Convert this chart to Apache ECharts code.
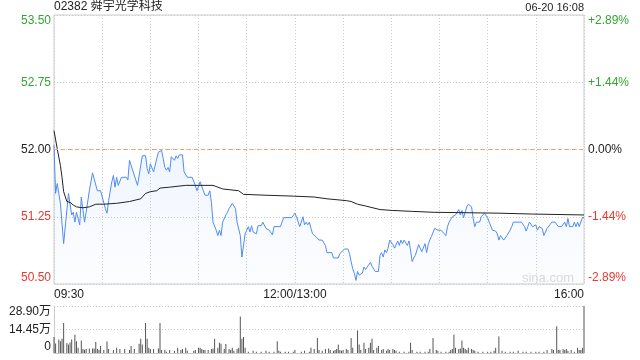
<!DOCTYPE html>
<html>
<head>
<meta charset="utf-8">
<script src="https://cdn.jsdelivr.net/npm/echarts@6/dist/echarts.min.js"></script>
<style>
  html, body { margin: 0; padding: 0; background: #fff; }
  #main { width: 640px; height: 360px; }
</style>
</head>
<body>
<div id="main"></div>
<script>
// 分时图：02382 舜宇光学科技（价格 / 均价 / 成交量）
const PREV_CLOSE = 52.00;
const TITLE = '02382 舜宇光学科技';
const STAMP = '06-20 16:08';
const TIME_TICKS = [0, 150, 330];
const TIME_LABELS = ['09:30', '12:00/13:00', '16:00'];
const PCT_LABELS = ['-2.89%', '-1.44%', '0.00%', '+1.44%', '+2.89%'];
const VOL_MAX = 28.9; // 万

// [分钟序号, 价格]
const price = [
  [0, 52.05], [1, 51.51], [2, 51.62], [4, 51.40], [5, 51.42], [6, 50.95], [9, 51.51], [11, 51.27],
  [12, 51.30], [13, 51.19], [14, 51.30], [16, 51.16], [17, 51.47], [19, 51.19], [20, 51.30], [22, 51.54],
  [23, 51.54], [24, 51.74], [25, 51.74], [27, 51.54], [29, 51.54], [30, 51.53], [32, 51.34], [33, 51.29],
  [34, 51.43], [36, 51.64], [37, 51.71], [38, 51.58], [39, 51.69], [40, 51.60], [41, 51.58], [42, 51.69],
  [45, 51.69], [46, 51.66], [47, 51.88], [48, 51.86], [52, 51.60], [53, 51.58], [55, 51.93], [57, 51.93],
  [58, 51.79], [59, 51.73], [60, 51.84], [61, 51.82], [62, 51.75], [64, 51.90], [65, 51.97], [66, 51.97],
  [67, 51.99], [68, 51.90], [69, 51.80], [70, 51.77], [71, 51.80], [72, 51.75], [73, 51.92], [74, 51.93],
  [75, 51.88], [76, 51.93], [77, 51.90], [78, 51.94], [80, 51.94], [81, 51.75], [82, 51.74], [83, 51.69],
  [86, 51.69], [88, 51.60], [89, 51.54], [90, 51.54], [91, 51.64], [92, 51.64], [93, 51.54], [94, 51.49],
  [96, 51.49], [97, 51.54], [98, 51.41], [99, 51.19], [101, 51.10], [102, 51.04], [103, 51.10], [104, 51.04],
  [105, 51.19], [107, 51.27], [108, 51.30], [109, 51.34], [110, 51.36], [111, 51.40], [112, 51.40], [113, 51.34],
  [114, 51.19], [115, 51.17], [116, 51.04], [117, 50.80], [119, 51.06], [120, 51.10], [121, 51.14], [122, 51.08],
  [123, 51.15], [124, 51.08], [125, 51.10], [126, 51.06], [127, 51.15], [129, 51.15], [130, 51.19], [131, 51.19],
  [132, 51.12], [134, 51.10], [135, 51.08], [136, 51.05], [137, 51.14], [141, 51.14], [143, 51.24], [148, 51.24],
  [150, 51.29], [151, 51.25], [152, 51.23], [153, 51.14], [154, 51.19], [155, 51.25], [156, 51.16], [157, 51.19],
  [158, 51.16], [159, 51.19], [160, 51.12], [161, 51.06], [162, 51.04], [163, 51.03], [164, 51.05], [165, 50.99],
  [166, 50.97], [167, 50.99], [169, 50.93], [170, 50.85], [173, 50.85], [174, 50.79], [177, 50.79], [178, 50.84],
  [179, 50.85], [181, 50.89], [183, 50.89], [184, 50.84], [185, 50.75], [186, 50.67], [187, 50.62], [188, 50.54],
  [189, 50.64], [190, 50.60], [191, 50.58], [192, 50.62], [193, 50.69], [194, 50.66], [195, 50.69], [196, 50.69],
  [197, 50.74], [198, 50.70], [199, 50.69], [200, 50.64], [202, 50.64], [203, 50.82], [204, 50.85], [205, 50.80],
  [206, 50.88], [207, 50.85], [208, 50.90], [209, 50.99], [210, 51.01], [211, 50.94], [212, 50.90], [214, 50.98],
  [215, 50.93], [216, 50.99], [217, 50.95], [218, 50.99], [220, 50.93], [221, 50.98], [222, 50.88], [223, 50.75],
  [224, 50.79], [225, 50.82], [226, 50.88], [227, 50.94], [228, 50.95], [229, 50.86], [231, 50.95], [232, 50.85],
  [233, 50.94], [234, 50.99], [235, 51.03], [237, 51.12], [238, 51.14], [239, 51.10], [241, 51.10], [242, 51.09],
  [244, 51.04], [245, 51.14], [246, 51.19], [247, 51.20], [248, 51.25], [249, 51.25], [250, 51.27], [251, 51.30],
  [252, 51.33], [253, 51.27], [254, 51.32], [255, 51.24], [256, 51.30], [257, 51.36], [258, 51.39], [259, 51.40],
  [260, 51.36], [261, 51.23], [262, 51.14], [263, 51.19], [265, 51.19], [266, 51.25], [267, 51.27], [268, 51.29],
  [269, 51.27], [270, 51.24], [271, 51.19], [272, 51.21], [273, 51.10], [274, 51.09], [275, 51.09], [276, 51.06],
  [277, 50.99], [278, 51.04], [279, 51.04], [280, 50.99], [281, 51.01], [282, 51.04], [283, 51.06], [284, 51.10],
  [285, 51.14], [286, 51.19], [291, 51.19], [292, 51.17], [293, 51.14], [294, 51.09], [295, 51.14], [296, 51.19],
  [297, 51.19], [298, 51.14], [299, 51.14], [300, 51.16], [301, 51.10], [302, 51.14], [303, 51.12], [304, 51.12],
  [305, 51.04], [306, 51.06], [307, 51.12], [308, 51.14], [310, 51.19], [312, 51.19], [313, 51.17], [314, 51.14],
  [316, 51.14], [317, 51.16], [318, 51.19], [319, 51.14], [320, 51.23], [321, 51.14], [323, 51.14], [324, 51.19],
  [325, 51.14], [326, 51.19], [327, 51.14], [328, 51.14], [329, 51.24], [330, 51.24]
];

// [分钟序号, 均价]
const avg = [
  [0, 52.21], [2, 52.01], [4, 51.82], [5, 51.69], [6, 51.53], [8, 51.42], [10, 51.41], [12, 51.38],
  [14, 51.36], [18, 51.35], [22, 51.36], [26, 51.39], [31, 51.39], [39, 51.40], [47, 51.42], [54, 51.45],
  [57, 51.51], [60, 51.53], [64, 51.54], [66, 51.57], [72, 51.58], [82, 51.60], [99, 51.60], [105, 51.56],
  [115, 51.54], [118, 51.50], [132, 51.49], [149, 51.48], [162, 51.47], [170, 51.45], [182, 51.43], [185, 51.42],
  [189, 51.39], [194, 51.37], [203, 51.33], [211, 51.32], [223, 51.31], [236, 51.30], [277, 51.29], [298, 51.28],
  [330, 51.27]
];

// [分钟序号, 成交量(万)]
const volume = [
  [0, 9.8], [1, 5.9], [3, 8.3], [4, 7.3], [5, 8.7], [6, 18.5], [8, 6.1], [9, 5.3], [10, 6.5], [11, 8.3],
  [13, 11.2], [14, 7.3], [15, 3.3], [17, 7.7], [18, 2.4], [19, 2.0], [20, 2.4], [22, 2.7], [24, 2.7], [25, 2.7],
  [26, 6.7], [27, 2.4], [28, 1.8], [29, 4.3], [31, 1.8], [33, 7.1], [34, 2.4], [37, 1.8], [39, 3.3], [41, 2.4],
  [44, 2.4], [47, 1.8], [48, 4.3], [50, 2.4], [53, 5.7], [54, 8.7], [55, 5.3], [57, 18.5], [58, 8.7], [59, 3.3],
  [60, 2.4], [62, 2.4], [65, 2.7], [66, 18.5], [67, 1.8], [69, 2.0], [70, 0.8], [72, 1.8], [75, 1.4], [77, 3.3],
  [79, 1.8], [80, 2.4], [82, 3.3], [83, 1.4], [87, 1.4], [88, 1.8], [90, 3.3], [91, 3.3], [92, 2.4], [93, 1.8],
  [94, 1.8], [96, 1.8], [98, 2.4], [99, 2.7], [100, 8.7], [102, 3.3], [103, 6.3], [104, 5.7], [106, 2.4], [107, 5.5],
  [109, 2.4], [110, 1.8], [111, 3.3], [112, 1.4], [114, 2.4], [115, 3.3], [116, 22.4], [117, 8.7], [118, 9.8], [119, 3.3],
  [121, 0.8], [124, 1.4], [126, 0.8], [129, 0.8], [132, 1.4], [134, 0.8], [137, 0.8], [139, 7.3], [140, 1.4], [141, 0.8],
  [144, 0.8], [146, 0.8], [149, 0.8], [150, 1.8], [154, 0.8], [156, 1.4], [159, 0.8], [160, 3.3], [162, 2.4], [164, 9.3],
  [165, 1.8], [167, 1.4], [169, 2.4], [171, 2.7], [172, 1.8], [174, 1.4], [175, 1.8], [176, 2.4], [177, 5.3], [178, 1.8],
  [179, 1.4], [180, 1.8], [182, 2.4], [183, 1.8], [185, 9.3], [186, 3.3], [189, 13.8], [190, 5.3], [191, 1.8], [193, 6.3],
  [194, 2.4], [196, 3.3], [197, 6.3], [198, 8.7], [199, 1.8], [201, 3.3], [202, 4.3], [204, 1.8], [205, 2.4], [207, 1.4],
  [208, 2.4], [209, 1.8], [211, 2.4], [212, 1.8], [213, 1.4], [215, 0.8], [218, 0.8], [221, 0.8], [222, 6.3], [223, 1.8],
  [226, 0.8], [228, 0.8], [231, 0.8], [233, 0.8], [234, 2.4], [236, 9.3], [238, 1.8], [239, 1.4], [241, 0.8], [244, 0.8],
  [246, 0.8], [247, 1.8], [248, 2.4], [249, 11.2], [250, 3.3], [252, 2.4], [253, 2.7], [254, 7.7], [255, 3.3], [256, 2.4],
  [257, 1.8], [258, 3.3], [260, 2.4], [261, 1.8], [262, 1.4], [264, 0.8], [267, 0.8], [270, 0.8], [272, 0.8], [274, 1.4],
  [275, 3.3], [277, 10.2], [279, 1.4], [281, 0.8], [284, 0.8], [286, 0.8], [289, 1.4], [292, 0.8], [294, 0.8], [297, 0.8],
  [300, 0.8], [302, 0.8], [305, 0.8], [307, 1.8], [310, 2.4], [311, 1.8], [313, 16.4], [314, 1.8], [315, 1.8], [317, 2.4],
  [318, 1.8], [319, 2.4], [320, 1.4], [322, 1.8], [324, 0.8], [326, 3.3], [327, 1.8], [328, 1.8], [329, 3.3], [330, 28.9]
];

const GREEN = '#33a532', RED = '#e8382f', BLACK = '#222';
const GRID_C = '#cccccc';
const FONT = 'Liberation Sans, Arial, Noto Sans CJK SC, sans-serif';
const dotted = { color: GRID_C, type: [1, 2], width: 1 };

// 以昨收为零点，刻度从 -1.5 开始（0.75 的整数倍）
const offset = (rows) => rows.map(([t, p]) => [t, +(p - PREV_CLOSE).toFixed(4)]);
const signColor = (v) => (+v > 0.001 ? GREEN : +v < -0.001 ? RED : BLACK);

const chart = echarts.init(document.getElementById('main'), null, { renderer: 'canvas' });
chart.setOption({
  animation: false,
  textStyle: { fontFamily: FONT },
  title: [
    { text: TITLE, left: 54, top: 1, padding: 0, textStyle: { fontSize: 12, fontWeight: 'normal', color: BLACK, fontFamily: FONT } },
    { text: STAMP, right: 56, top: 2, padding: 0, textStyle: { fontSize: 11, fontWeight: 'normal', color: BLACK, fontFamily: FONT } },
    { text: 'sina.com', right: 66, top: 272, padding: 0, textStyle: { fontSize: 13, fontWeight: 'normal', color: '#d9d9d9', fontFamily: FONT } },
  ],
  grid: [
    { left: 54, right: 56, top: 15, height: 269, show: true, borderColor: GRID_C, borderWidth: 1 },
    { left: 54, right: 56, top: 306, height: 47 },
  ],
  xAxis: [
    {
      gridIndex: 0, type: 'value', min: 0, max: 330, interval: 30,
      axisLine: { show: false }, axisTick: { show: false },
      splitLine: { show: true, lineStyle: dotted },
      axisLabel: {
        color: BLACK, fontSize: 12, margin: 5,
        alignMinLabel: 'left', alignMaxLabel: 'right',
        formatter: (v) => { const i = TIME_TICKS.indexOf(Math.round(v)); return i >= 0 ? TIME_LABELS[i] : ''; },
      },
    },
    {
      gridIndex: 1, type: 'value', min: 0, max: 330,
      axisLine: { show: true, lineStyle: { color: GRID_C } }, axisTick: { show: false },
      splitLine: { show: false }, axisLabel: { show: false },
    },
  ],
  yAxis: [
    {
      gridIndex: 0, type: 'value', min: -1.5, max: 1.5, interval: 0.75, position: 'left',
      axisLine: { show: false }, axisTick: { show: false },
      splitLine: { show: true, lineStyle: dotted },
      axisLabel: {
        fontSize: 12, margin: 3, color: signColor,
        verticalAlignMinLabel: 'bottom', verticalAlignMaxLabel: 'top',
        formatter: (v) => (PREV_CLOSE + +v).toFixed(2),
      },
    },
    {
      gridIndex: 0, type: 'value', min: -1.5, max: 1.5, interval: 0.75, position: 'right',
      axisLine: { show: false }, axisTick: { show: false }, splitLine: { show: false },
      axisLabel: {
        fontSize: 12, margin: 4, color: signColor,
        verticalAlignMinLabel: 'bottom', verticalAlignMaxLabel: 'top',
        formatter: (v) => PCT_LABELS[Math.round((+v + 1.5) / 0.75)],
      },
    },
    {
      gridIndex: 1, type: 'value', min: 0, max: VOL_MAX, interval: VOL_MAX / 2,
      axisLine: { show: true, lineStyle: { color: GRID_C } }, axisTick: { show: false },
      splitLine: { show: true, lineStyle: dotted },
      axisLabel: {
        fontSize: 12, margin: 3, color: BLACK,
        verticalAlignMinLabel: 'bottom', verticalAlignMaxLabel: 'top',
        formatter: (v) => (+v === 0 ? '0' : (+v).toFixed(2) + '万'),
      },
    },
  ],
  series: [
    {
      name: '价格', type: 'line', xAxisIndex: 0, yAxisIndex: 0, data: offset(price),
      symbol: 'none', smooth: false,
      lineStyle: { color: '#4e8cf2', width: 1 },
      areaStyle: {
        origin: 'start',
        color: new echarts.graphic.LinearGradient(0, 0, 0, 1, [
          { offset: 0, color: 'rgba(78,140,242,0.13)' }, { offset: 1, color: 'rgba(78,140,242,0.02)' }]),
      },
      markLine: {
        silent: true, symbol: 'none', label: { show: false },
        lineStyle: { color: '#f4a26e', type: [4, 3], width: 1 },
        data: [{ yAxis: 0 }],
      },
    },
    {
      name: '均价', type: 'line', xAxisIndex: 0, yAxisIndex: 0, data: offset(avg),
      symbol: 'none', lineStyle: { color: '#222', width: 1 },
    },
    {
      name: '成交量', type: 'bar', xAxisIndex: 1, yAxisIndex: 2, data: volume,
      barWidth: 1, itemStyle: { color: '#555' },
    },
  ],
});
</script>
</body>
</html>
